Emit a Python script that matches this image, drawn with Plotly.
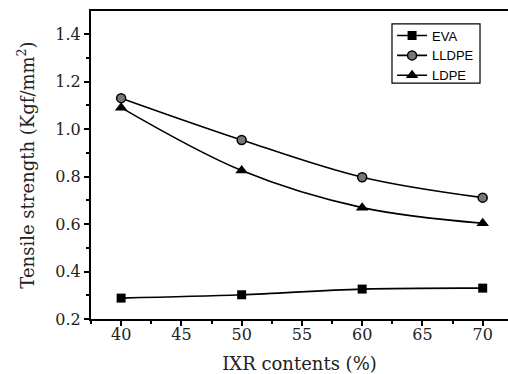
import plotly.graph_objects as go

ixr = [40, 50, 60, 70]
eva = [0.288, 0.302, 0.326, 0.330]
lldpe = [1.130, 0.954, 0.797, 0.711]
ldpe = [1.090, 0.825, 0.669, 0.603]

x_ticks = [40, 45, 50, 55, 60, 65, 70]
y_ticks = [0.2, 0.4, 0.6, 0.8, 1.0, 1.2, 1.4]

fig = go.Figure()
fig.add_trace(go.Scatter(x=ixr, y=eva, name="EVA", mode="lines+markers",
                         line=dict(color="black", width=1.6, shape="spline"),
                         marker=dict(symbol="square", size=9, color="black")))
fig.add_trace(go.Scatter(x=ixr, y=lldpe, name="LLDPE", mode="lines+markers",
                         line=dict(color="black", width=1.6, shape="spline"),
                         marker=dict(symbol="circle", size=9, color="#777777",
                                     line=dict(color="black", width=1.5))))
fig.add_trace(go.Scatter(x=ixr, y=ldpe, name="LDPE", mode="lines+markers",
                         line=dict(color="black", width=1.6, shape="spline"),
                         marker=dict(symbol="triangle-up", size=11, color="black")))

# legend frame (drawn as a shape to match the compact box of the reference)
fig.add_shape(type="rect", xref="paper", yref="paper",
              x0=0.7218, x1=0.9329, y0=0.766, y1=0.958,
              line=dict(color="black", width=1.2), fillcolor="rgba(0,0,0,0)", layer="above")

serif = "DejaVu Serif"
fig.update_layout(
    width=508, height=374,
    margin=dict(l=91, r=0, t=11, b=55, autoexpand=False),
    paper_bgcolor="white", plot_bgcolor="white",
    showlegend=True,
    legend=dict(x=0.722, y=0.969, xanchor="left", yanchor="top",
                borderwidth=0, bgcolor="rgba(0,0,0,0)",
                font=dict(family="Liberation Sans", size=13, color="black"),
                tracegroupgap=0, itemwidth=30),
    xaxis=dict(range=[37.5, 72.1], tickmode="array", tickvals=x_ticks,
               ticktext=[str(v) for v in x_ticks], automargin=False,
               showgrid=False, zeroline=False, showline=True, linecolor="black",
               linewidth=2, mirror=True, ticks="outside", ticklen=5, tickwidth=1.5,
               tickcolor="black", ticklabelstandoff=-5,
               minor=dict(dtick=2.5, tick0=40, ticks="outside", ticklen=3, tickcolor="black"),
               tickfont=dict(family=serif, size=16, color="#222"),
               title=dict(text="IXR contents (%)", font=dict(family=serif, size=18, color="#222"),
                          standoff=16)),
    yaxis=dict(range=[0.2, 1.497], tickmode="array", tickvals=y_ticks,
               ticktext=["%.1f" % v for v in y_ticks], automargin=False,
               showgrid=False, zeroline=False, showline=True, linecolor="black",
               linewidth=2, mirror=False, ticks="outside", ticklen=5, tickwidth=1.5,
               tickcolor="black",
               minor=dict(dtick=0.1, tick0=0.2, ticks="outside", ticklen=3, tickcolor="black"),
               tickfont=dict(family=serif, size=16, color="#222"),
               title=dict(text="Tensile strength (Kgf/mm<sup>2</sup>)",
                          font=dict(family=serif, size=18, color="#222"), standoff=16)),
)

fig.write_html("out.html", config={"displayModeBar": False},
               post_script="document.body.style.margin='0';")
